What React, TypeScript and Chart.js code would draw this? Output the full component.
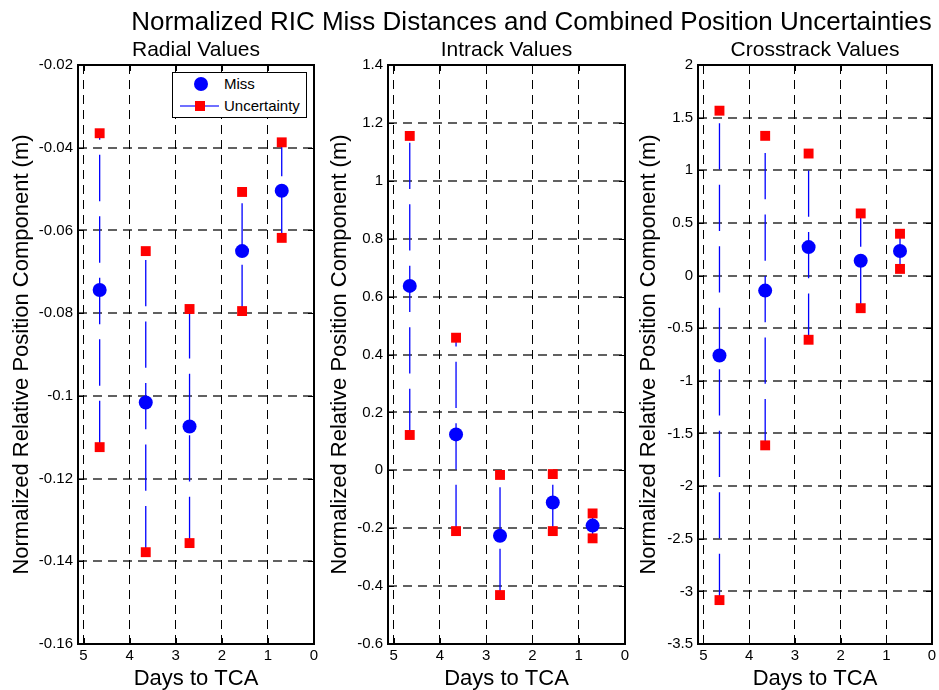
import React, { useEffect, useRef } from "react";
import { Chart, registerables } from "chart.js";

Chart.register(...registerables);

// ---------- data ----------
const days = [4.65, 3.65, 2.7, 1.56, 0.7];

const radialMiss = [-0.0744, -0.1016, -0.1074, -0.065, -0.0504];
const radialUpper = [-0.0365, -0.065, -0.079, -0.0507, -0.0387];
const radialLower = [-0.1124, -0.1378, -0.1356, -0.0795, -0.0618];

const intrackMiss = [0.637, 0.124, -0.226, -0.111, -0.191];
const intrackUpper = [1.155, 0.458, -0.016, -0.013, -0.149];
const intrackLower = [0.122, -0.21, -0.431, -0.21, -0.235];

const crossMiss = [-0.76, -0.143, 0.27, 0.14, 0.233];
const crossUpper = [1.566, 1.327, 1.159, 0.59, 0.397];
const crossLower = [-3.083, -1.613, -0.61, -0.31, 0.063];

const xTicks = [0, 1, 2, 3, 4, 5];
const xTickLabels = ["0", "1", "2", "3", "4", "5"];
const xMax = 5.12;

const radialTicks = [-0.16, -0.14, -0.12, -0.1, -0.08, -0.06, -0.04, -0.02];
const radialTickLabels = ["-0.16", "-0.14", "-0.12", "-0.1", "-0.08", "-0.06", "-0.04", "-0.02"];
const intrackTicks = [-0.6, -0.4, -0.2, 0, 0.2, 0.4, 0.6, 0.8, 1, 1.2, 1.4];
const intrackTickLabels = ["-0.6", "-0.4", "-0.2", "0", "0.2", "0.4", "0.6", "0.8", "1", "1.2", "1.4"];
const crossTicks = [-3.5, -3, -2.5, -2, -1.5, -1, -0.5, 0, 0.5, 1, 1.5, 2];
const crossTickLabels = ["-3.5", "-3", "-2.5", "-2", "-1.5", "-1", "-0.5", "0", "0.5", "1", "1.5", "2"];

const suptitle = "Normalized RIC Miss Distances and Combined Position Uncertainties";
const xTitle = "Days to TCA";
const yTitle = "Normalized Relative Position Component (m)";
const missLabel = "Miss";
const uncLabel = "Uncertainty";

const FONT = '"Liberation Sans", Arial, Helvetica, sans-serif';

const framePlugin = {
  id: "matlabFrame",
  beforeDatasetsDraw(chart: any) {
    const { ctx, chartArea: a, scales } = chart;
    ctx.save();
    ctx.strokeStyle = "#000";
    ctx.lineWidth = 1;
    const tl = 6;
    ctx.beginPath();
    scales.x.ticks.forEach((t: any) => {
      const px = Math.round(scales.x.getPixelForValue(t.value)) + 0.5;
      ctx.moveTo(px, a.bottom);
      ctx.lineTo(px, a.bottom - tl);
      ctx.moveTo(px, a.top);
      ctx.lineTo(px, a.top + tl);
    });
    scales.y.ticks.forEach((t: any) => {
      const py = Math.round(scales.y.getPixelForValue(t.value)) + 0.5;
      ctx.moveTo(a.left, py);
      ctx.lineTo(a.left + tl, py);
      ctx.moveTo(a.right, py);
      ctx.lineTo(a.right - tl, py);
    });
    ctx.stroke();
    ctx.lineWidth = 2;
    ctx.strokeRect(a.left, a.top, a.right - a.left, a.bottom - a.top);
    ctx.restore();
  },
};

type PanelProps = {
  title: string;
  miss: number[];
  upper: number[];
  lower: number[];
  yTicks: number[];
  yLabels: string[];
  left: number;
  width: number;
  yAxisWidth: number;
  padRight: number;
  yTitlePad: number;
};

function Panel(p: PanelProps) {
  const ref = useRef<HTMLCanvasElement | null>(null);
  useEffect(() => {
    if (!ref.current) return;
    const missData = days.map((d, i) => ({ x: d, y: p.miss[i] }));
    const uncData: any[] = [];
    days.forEach((d, i) => {
      uncData.push({ x: d, y: p.lower[i] });
      uncData.push({ x: d, y: p.upper[i] });
      uncData.push({ x: d, y: null });
    });
    const chart = new Chart(ref.current, {
      type: "scatter",
      data: {
        datasets: [
          {
            label: missLabel,
            data: missData,
            pointStyle: "circle",
            pointRadius: 7,
            pointBackgroundColor: "#0000ff",
            pointBorderWidth: 0,
            showLine: false,
          },
          {
            label: uncLabel,
            data: uncData,
            showLine: true,
            spanGaps: false,
            borderColor: "#0000ff",
            borderWidth: 1.3,
            borderDash: [46.3, 15.2],
            pointStyle: "rect",
            pointRadius: 7,
            pointBackgroundColor: "#ff0000",
            pointBorderWidth: 0,
          },
        ],
      } as any,
      options: {
        responsive: false,
        animation: false,
        events: [],
        layout: { padding: { left: 0, right: p.padRight, top: 0, bottom: 0 } },
        plugins: {
          legend: { display: false },
          tooltip: { enabled: false },
          title: {
            display: true,
            text: p.title,
            color: "#000",
            fullSize: false,
            font: { family: FONT, size: 21, weight: "normal" },
            padding: { top: 37.4, bottom: 2.4 },
          },
        },
        scales: {
          x: {
            type: "linear",
            reverse: true,
            min: 0,
            max: xMax,
            afterBuildTicks: (s: any) => {
              s.ticks = xTicks.map((v) => ({ value: v }));
            },
            afterFit: (s: any) => {
              s.height = 46;
              s.paddingLeft = 0;
              s.paddingRight = 0;
            },
            ticks: {
              autoSkip: false,
              maxRotation: 0,
              padding: 2.5,
              color: "#000",
              font: { family: FONT, size: 15 },
              callback: (_v: any, i: number) => xTickLabels[i],
            },
            grid: { color: "#000", lineWidth: 1, drawTicks: false },
            border: { display: false, dash: [9, 6] },
            title: {
              display: true,
              text: xTitle,
              color: "#000",
              font: { family: FONT, size: 22 },
              padding: { top: 0, bottom: -1.7 },
            },
          },
          y: {
            type: "linear",
            min: p.yTicks[0],
            max: p.yTicks[p.yTicks.length - 1],
            afterBuildTicks: (s: any) => {
              s.ticks = p.yTicks.map((v) => ({ value: v }));
            },
            afterFit: (s: any) => {
              s.width = p.yAxisWidth;
            },
            ticks: {
              autoSkip: false,
              padding: 5,
              color: "#000",
              font: { family: FONT, size: 15 },
              callback: (_v: any, i: number) => p.yLabels[i],
            },
            grid: { color: "rgba(0,0,0,0.62)", lineWidth: 2, drawTicks: false },
            border: { display: false, dash: [9, 6] },
            title: {
              display: true,
              text: yTitle,
              color: "#000",
              font: { family: FONT, size: 22 },
              padding: { top: p.yTitlePad, bottom: 0 },
            },
          },
        },
      } as any,
      plugins: [framePlugin],
    });
    return () => chart.destroy();
  }, []);
  return (
    <div style={{ position: "absolute", left: p.left, top: 0, width: p.width, height: 690 }}>
      <canvas ref={ref} width={p.width} height={690} style={{ display: "block" }} />
    </div>
  );
}

function Legend() {
  const base: React.CSSProperties = { position: "absolute" };
  const text: React.CSSProperties = {
    position: "absolute",
    left: 51,
    fontFamily: FONT,
    fontSize: 15,
    lineHeight: "18px",
    color: "#000",
    whiteSpace: "nowrap",
  };
  return (
    <div
      style={{
        position: "absolute",
        left: 172,
        top: 72,
        width: 135,
        height: 46,
        boxSizing: "border-box",
        border: "1px solid #000",
        background: "#fff",
      }}
    >
      <div style={{ ...base, left: 20.7, top: 4.3, width: 14, height: 14, borderRadius: 7, background: "#0000ff" }} />
      <div style={{ ...text, top: 2.3 }}>{missLabel}</div>
      <div style={{ ...base, left: 7, top: 32.2, width: 39, height: 1.6, background: "#7070ff" }} />
      <div style={{ ...base, left: 22.3, top: 28, width: 10, height: 10, background: "#ff0000" }} />
      <div style={{ ...text, top: 24 }}>{uncLabel}</div>
    </div>
  );
}

export default function App() {
  return (
    <div
      style={{
        position: "fixed",
        left: 0,
        top: 0,
        width: 939,
        height: 690,
        background: "#fff",
        overflow: "hidden",
      }}
    >
      <Panel
        title="Radial Values"
        miss={radialMiss}
        upper={radialUpper}
        lower={radialLower}
        yTicks={radialTicks}
        yLabels={radialTickLabels}
        left={0}
        width={322}
        yAxisWidth={78}
        padRight={8}
        yTitlePad={9}
      />
      <Panel
        title="Intrack Values"
        miss={intrackMiss}
        upper={intrackUpper}
        lower={intrackLower}
        yTicks={intrackTicks}
        yLabels={intrackTickLabels}
        left={322}
        width={310}
        yAxisWidth={66}
        padRight={7}
        yTitlePad={5}
      />
      <Panel
        title="Crosstrack Values"
        miss={crossMiss}
        upper={crossUpper}
        lower={crossLower}
        yTicks={crossTicks}
        yLabels={crossTickLabels}
        left={632}
        width={307}
        yAxisWidth={66}
        padRight={4}
        yTitlePad={4}
      />
      <Legend />
      <div
        style={{
          position: "absolute",
          left: 531.5,
          top: 6,
          transform: "translateX(-50%)",
          fontFamily: FONT,
          fontSize: 26,
          lineHeight: "30px",
          color: "#000",
          whiteSpace: "nowrap",
        }}
      >
        {suptitle}
      </div>
    </div>
  );
}
